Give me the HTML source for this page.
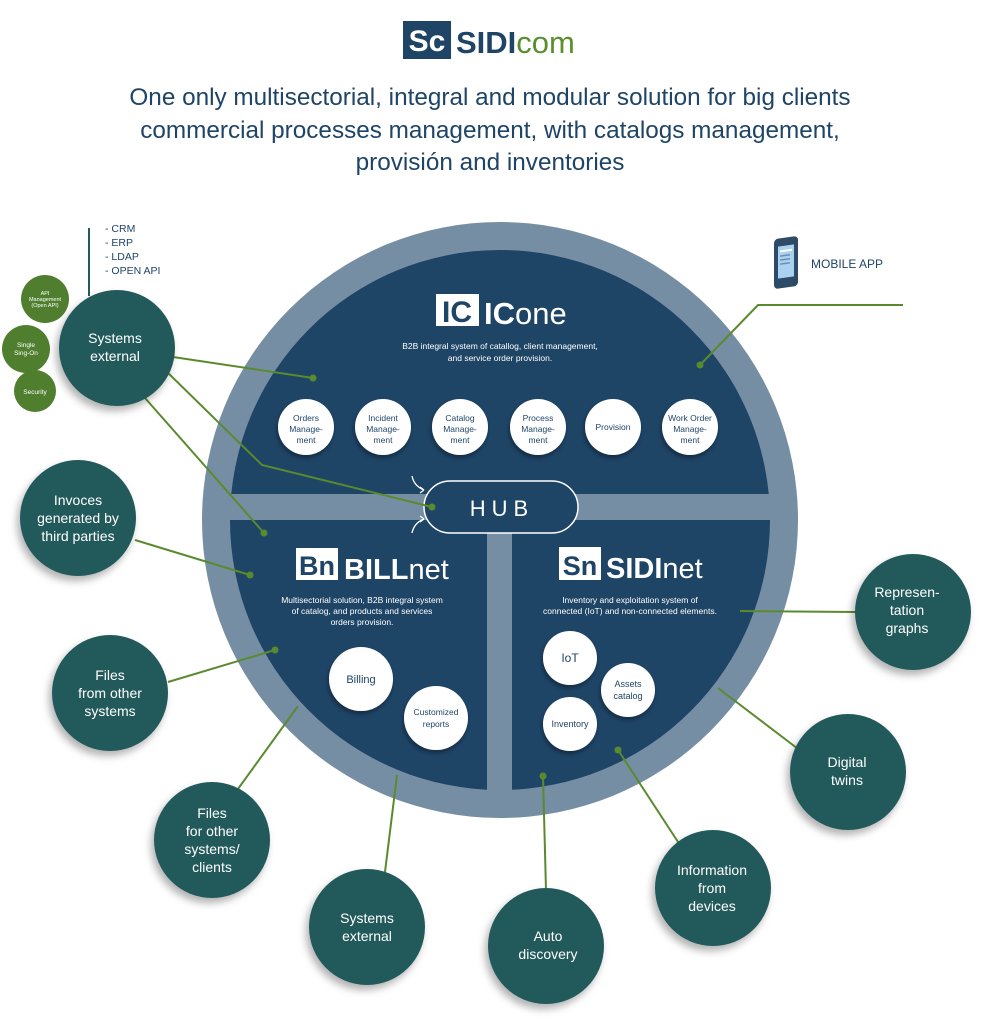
<!DOCTYPE html>
<html><head><meta charset="utf-8"><style>
html,body{margin:0;padding:0;background:#fff;}
body{width:981px;height:1024px;overflow:hidden;}
svg{display:block;font-family:"Liberation Sans",sans-serif;}
</style></head><body>
<svg width="981" height="1024" viewBox="0 0 981 1024" xmlns="http://www.w3.org/2000/svg">
<defs>
<filter id="sh" x="-30%" y="-30%" width="160%" height="160%"><feDropShadow dx="-3" dy="5" stdDeviation="4" flood-color="#000" flood-opacity="0.3"/></filter>
<filter id="sh2" x="-30%" y="-30%" width="160%" height="160%"><feDropShadow dx="-1" dy="3" stdDeviation="2" flood-color="#000" flood-opacity="0.35"/></filter>
<clipPath id="ci"><circle cx="500" cy="520" r="270"/></clipPath>
</defs>
<!-- logo -->
<rect x="403" y="21" width="48" height="38" fill="#1e4466"/>
<text x="427" y="51" text-anchor="middle" font-size="30" font-weight="bold" fill="#fff">Sc</text>
<text x="456" y="53" font-size="31" font-weight="bold" fill="#1e4466">SIDI<tspan font-weight="normal" fill="#5a8e2e">com</tspan></text>
<!-- title -->
<g fill="#1e4466" font-size="24.3" text-anchor="middle">
<text x="490" y="105">One only multisectorial, integral and modular solution for big clients</text>
<text x="490" y="138">commercial processes management, with catalogs management,</text>
<text x="490" y="170">provisión and inventories</text>
</g>
<!-- big circle -->
<circle cx="500" cy="520" r="298" fill="#768ea3"/>
<g clip-path="url(#ci)" fill="#1e4466">
<rect x="200" y="200" width="600" height="294"/>
<rect x="200" y="520" width="287" height="300"/>
<rect x="512" y="520" width="300" height="300"/>
</g>
<!-- HUB -->
<rect x="424" y="481" width="154" height="52" rx="26" fill="#1e4466" stroke="#fff" stroke-width="1.5"/>
<text x="502" y="516" text-anchor="middle" font-size="22" fill="#fff" letter-spacing="6">HUB</text>
<g stroke="#fff" stroke-width="1.3" fill="none">
<path d="M424 490 q-10 -4 -12 -14 M424 490 l-4 -3 M424 490 l-4 3"/>
<path d="M424 519 q-10 4 -12 14 M424 519 l-4 -3 M424 519 l-4 3"/>
</g>
<!-- ICone -->
<rect x="436" y="294" width="43" height="32" fill="#fff"/>
<text x="457" y="322" text-anchor="middle" font-size="30" font-weight="bold" fill="#1e4466">IC</text>
<text x="484" y="324" font-size="31" fill="#fff"><tspan font-weight="bold">IC</tspan>one</text>
<text x="500" y="349" text-anchor="middle" font-size="8.5" fill="#fff">B2B integral system  of catallog, client management,</text>
<text x="500" y="361" text-anchor="middle" font-size="8.5" fill="#fff">and service order provision.</text>
<g filter="url(#sh2)" fill="#fff">
<circle cx="306" cy="427" r="28"/><circle cx="383" cy="427" r="28"/><circle cx="460" cy="427" r="28"/>
<circle cx="538" cy="427" r="28"/><circle cx="613" cy="427" r="28"/><circle cx="690" cy="427" r="28"/>
</g>
<g font-size="8.5" fill="#1e4466" text-anchor="middle">
<text x="306" y="421">Orders</text><text x="306" y="432">Manage-</text><text x="306" y="443">ment</text>
<text x="383" y="421">Incident</text><text x="383" y="432">Manage-</text><text x="383" y="443">ment</text>
<text x="460" y="421">Catalog</text><text x="460" y="432">Manage-</text><text x="460" y="443">ment</text>
<text x="538" y="421">Process</text><text x="538" y="432">Manage-</text><text x="538" y="443">ment</text>
<text x="613" y="430">Provision</text>
<text x="690" y="421">Work Order</text><text x="690" y="432">Manage-</text><text x="690" y="443">ment</text>
</g>
<!-- BILLnet -->
<rect x="296" y="548" width="42" height="32" fill="#fff"/>
<text x="317" y="575" text-anchor="middle" font-size="27" font-weight="bold" fill="#1e4466">Bn</text>
<text x="344" y="579" font-size="29" fill="#fff"><tspan font-weight="bold">BILL</tspan>net</text>
<g font-size="8.5" fill="#fff" text-anchor="middle">
<text x="362" y="603">Multisectorial solution, B2B integral system</text>
<text x="362" y="614">of catalog, and products and services</text>
<text x="362" y="625">orders provision.</text>
</g>
<g filter="url(#sh2)" fill="#fff"><circle cx="361" cy="679" r="32"/><circle cx="436" cy="718" r="32"/></g>
<text x="361" y="683" text-anchor="middle" font-size="11" fill="#1e4466">Billing</text>
<text x="436" y="715" text-anchor="middle" font-size="8.5" fill="#1e4466">Customized</text>
<text x="436" y="727" text-anchor="middle" font-size="8.5" fill="#1e4466">reports</text>
<!-- SIDInet -->
<rect x="559" y="547" width="42" height="33" fill="#fff"/>
<text x="580" y="575" text-anchor="middle" font-size="27" font-weight="bold" fill="#1e4466">Sn</text>
<text x="606" y="578" font-size="29" fill="#fff"><tspan font-weight="bold">SIDI</tspan>net</text>
<g font-size="8.5" fill="#fff" text-anchor="middle">
<text x="630" y="603">Inventory and exploitation system of</text>
<text x="630" y="614">connected (IoT) and non-connected elements.</text>
</g>
<g filter="url(#sh2)" fill="#fff"><circle cx="570" cy="658" r="27"/><circle cx="628" cy="690" r="27"/><circle cx="570" cy="724" r="27"/></g>
<g font-size="9" fill="#1e4466" text-anchor="middle">
<text x="570" y="662" font-size="12">IoT</text>
<text x="628" y="687">Assets</text><text x="628" y="699">catalog</text>
<text x="570" y="727">Inventory</text>
</g>
<!-- connectors -->
<g stroke="#5a8a2e" stroke-width="2" fill="none">
<line x1="173" y1="357" x2="313" y2="378"/>
<polyline points="163,368 262,465 432,507"/>
<line x1="145" y1="398" x2="264" y2="533"/>
<line x1="135" y1="540" x2="250" y2="575"/>
<line x1="168" y1="682" x2="275" y2="650"/>
<line x1="230" y1="800" x2="298" y2="706"/>
<line x1="383" y1="888" x2="397" y2="775"/>
<line x1="546" y1="890" x2="543" y2="776"/>
<line x1="680" y1="845" x2="618" y2="750"/>
<line x1="810" y1="758" x2="718" y2="688"/>
<line x1="856" y1="612" x2="740" y2="611"/>
<polyline points="903,305 758,305 700,365"/>
</g>
<g fill="#5a8a2e">
<circle cx="313" cy="378" r="3.5"/><circle cx="432" cy="507" r="3.5"/><circle cx="264" cy="533" r="3.5"/>
<circle cx="250" cy="575" r="3.5"/><circle cx="275" cy="650" r="3.5"/><circle cx="543" cy="776" r="3.5"/>
<circle cx="618" cy="750" r="3.5"/><circle cx="700" cy="365" r="3.5"/>
<circle cx="230" cy="800" r="3.5"/><circle cx="383" cy="888" r="3.5"/><circle cx="810" cy="758" r="3.5"/>
</g>
<line x1="89" y1="228" x2="89" y2="296" stroke="#245a5b" stroke-width="2"/>
<g font-size="10.5" fill="#1e4466">
<text x="105" y="232">- CRM</text><text x="105" y="246">- ERP</text><text x="105" y="260">- LDAP</text><text x="105" y="274">- OPEN API</text>
</g>
<!-- small green circles -->
<g fill="#4f7f2e"><circle cx="45" cy="299" r="24"/><circle cx="26" cy="349" r="24"/><circle cx="35" cy="391" r="21"/></g>
<g fill="#fff" font-size="5.5" text-anchor="middle">
<text x="45" y="295">API</text><text x="45" y="301">Management</text><text x="45" y="307">(Open API)</text>
<text x="26" y="347" font-size="6.5">Single</text><text x="26" y="355" font-size="6.5">Sing-On</text>
<text x="35" y="394" font-size="6.5">Security</text>
</g>
<!-- teal bubbles -->
<g fill="#245a5b" filter="url(#sh)">
<circle cx="117" cy="348" r="58"/><circle cx="78" cy="518" r="58"/><circle cx="110" cy="693" r="58"/>
<circle cx="212" cy="840" r="58"/><circle cx="367" cy="927" r="58"/><circle cx="546" cy="946" r="58"/>
<circle cx="713" cy="888" r="58"/><circle cx="848" cy="772" r="58"/><circle cx="913" cy="612" r="58"/>
</g>
<g fill="#fff" font-size="14" text-anchor="middle">
<text x="115" y="343">Systems</text><text x="115" y="361">external</text>
<text x="78" y="505">Invoces</text><text x="78" y="523">generated by</text><text x="78" y="541">third parties</text>
<text x="110" y="680">Files</text><text x="110" y="698">from other</text><text x="110" y="716">systems</text>
<text x="212" y="818">Files</text><text x="212" y="836">for other</text><text x="212" y="854">systems/</text><text x="212" y="872">clients</text>
<text x="367" y="923">Systems</text><text x="367" y="941">external</text>
<text x="548" y="941">Auto</text><text x="548" y="959">discovery</text>
<text x="712" y="875">Information</text><text x="712" y="893">from</text><text x="712" y="911">devices</text>
<text x="847" y="767">Digital</text><text x="847" y="785">twins</text>
<text x="907" y="597">Represen-</text><text x="907" y="615">tation</text><text x="907" y="633">graphs</text>
</g>
<!-- mobile app -->
<g transform="skewY(-8) translate(0,110)">
<rect x="774" y="238" width="24" height="50" rx="4" fill="#2d4a66"/>
<rect x="778" y="246" width="16" height="32" fill="#a9d2f0"/>
<rect x="780" y="250" width="12" height="2" fill="#fff"/>
<rect x="780" y="255" width="10" height="1.5" fill="#6b8fb0"/>
<rect x="780" y="259" width="10" height="1.5" fill="#6b8fb0"/>
<rect x="780" y="263" width="10" height="1.5" fill="#6b8fb0"/>
</g>
<text x="811" y="268" font-size="12" fill="#1e4466">MOBILE APP</text>
</svg>
</body></html>
